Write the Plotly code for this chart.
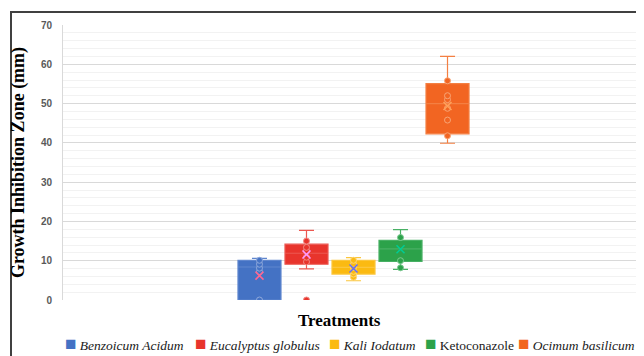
import plotly.graph_objects as go

treatments = ["Benzoicum Acidum", "Eucalyptus globulus", "Kali Iodatum", "Ketoconazole", "Ocimum basilicum"]
legend_labels = ["<i>Benzoicum Acidum</i>", "<i>Eucalyptus globulus</i>", "<i>Kali Iodatum</i>",
                 "Ketoconazole", "<i>Ocimum basilicum</i>"]
q1 = [0.0, 9.1, 6.6, 9.8, 42.3]
median = [8.4, 11.9, 8.3, 13.0, 50.0]
q3 = [10.1, 14.2, 10.1, 15.2, 55.1]
lower_whisker = [0.0, 7.9, 4.9, 7.8, 39.9]
upper_whisker = [10.6, 17.7, 10.8, 17.9, 62.0]
means = [6.2, 11.6, 8.0, 12.9, 49.4]
points = [
    [0.0, 7.2, 8.1, 9.1, 10.1],
    [0.0, 9.7, 10.9, 12.5, 13.4, 15.0],
    [5.8, 6.6, 7.3, 8.3, 9.1, 10.1],
    [8.2, 10.0, 15.9],
    [41.8, 45.8, 48.8, 51.0, 52.0, 55.8],
]
y_ticks = [0, 10, 20, 30, 40, 50, 60, 70]

colors = ["#4472C4", "#E8342C", "#FBBA12", "#2CA24A", "#F26522"]
lines = ["#5F86CE", "#EC5750", "#FCC63C", "#48B064", "#F47F42"]
tints = ["#8FA9DC", "#F28A84", "#FDD779", "#7CC991", "#F8A576"]

# layout (figure pixel coordinates; page body has an 8px offset)
plot_left, plot_right, plot_top, plot_bottom = 55, 636, 17, 292
W, H = 644, 356
pw, ph = plot_right - plot_left, plot_bottom - plot_top
legend_square_px = [57, 187, 321, 417, 510]

fig = go.Figure()
for i, t in enumerate(treatments):
    fig.add_trace(go.Box(
        x=[t], q1=[q1[i]], median=[median[i]], q3=[q3[i]],
        lowerfence=[lower_whisker[i]], upperfence=[upper_whisker[i]],
        name=t, fillcolor=colors[i], showlegend=False,
        line=dict(color=lines[i], width=1.2), whiskerwidth=0.35,
        boxpoints=False, hoverinfo="skip",
    ))
for i, t in enumerate(treatments):
    fig.add_trace(go.Scatter(
        x=[t] * len(points[i]), y=points[i], mode="markers", showlegend=False,
        marker=dict(symbol="circle", size=6, color=colors[i], line=dict(color=tints[i], width=1)),
        hoverinfo="skip",
    ))
    fig.add_trace(go.Scatter(
        x=[t], y=[means[i]], mode="markers", showlegend=False,
        marker=dict(symbol="x-thin-open", size=8, line=dict(color=tints[i], width=1.5)),
        hoverinfo="skip",
    ))
# legend entries: colored square glyph + label
for i, t in enumerate(treatments):
    lg = "legend" if i == 0 else f"legend{i+1}"
    fig.add_trace(go.Scatter(
        x=[None], y=[None], mode="markers", legend=lg, showlegend=True,
        name=f'<span style="color:{colors[i]};font-size:19px">■</span> {legend_labels[i]}',
        marker=dict(size=1, color="rgba(0,0,0,0)"), hoverinfo="skip",
    ))

legend_common = dict(orientation="h", xanchor="left", y=(plot_bottom - 337) / ph, yanchor="middle",
                     font=dict(family="Liberation Serif", size=13.5, color="#1a1a1a"),
                     itemwidth=30, bgcolor="rgba(0,0,0,0)", borderwidth=0, itemclick=False,
                     itemdoubleclick=False)
legends = {}
for i, px in enumerate(legend_square_px):
    key = "legend" if i == 0 else f"legend{i+1}"
    legends[key] = dict(legend_common, x=(px - 40 - plot_left) / pw)

fig.update_layout(
    width=W, height=H,
    margin=dict(l=plot_left, r=W - plot_right, t=plot_top, b=H - plot_bottom, autoexpand=False),
    paper_bgcolor="white", plot_bgcolor="white",
    boxmode="overlay", boxgap=0.085, boxgroupgap=0,
    showlegend=True,
    xaxis=dict(type="category", categoryorder="array", categoryarray=treatments,
               range=[-4.18, 8.18], showticklabels=False, showgrid=False, zeroline=False,
               showline=False, ticks=""),
    yaxis=dict(range=[0, 70], tickvals=y_ticks, showgrid=True, gridcolor="#d9d9d9", gridwidth=1,
               minor=dict(dtick=2, showgrid=True, gridcolor="#f2f2f2", gridwidth=1),
               zeroline=False, showline=True, linecolor="#d9d9d9", linewidth=1,
               tickfont=dict(family="Liberation Sans", size=10, color="#595959", weight="bold"),
               ticks="", ticklabelstandoff=8,
               title=dict(text="<b>Growth Inhibition Zone (mm)</b>",
                          font=dict(family="Liberation Serif", size=18, color="#000000"),
                          standoff=12)),
    annotations=[dict(text="<b>Treatments</b>", xref="paper", yref="paper", x=(331 - plot_left) / pw,
                      y=(plot_bottom - 312) / ph,
                      xanchor="center", yanchor="middle", showarrow=False,
                      font=dict(family="Liberation Serif", size=17, color="#000000"))],
    shapes=[dict(type="rect", xref="paper", yref="paper", x0=(3 - plot_left) / pw, x1=1.2,
                 y0=-0.4, y1=(plot_bottom - 4) / ph,
                 line=dict(color="#404040", width=2), fillcolor="rgba(0,0,0,0)", layer="above")],
    **legends,
)
fig.write_html("out.html")
